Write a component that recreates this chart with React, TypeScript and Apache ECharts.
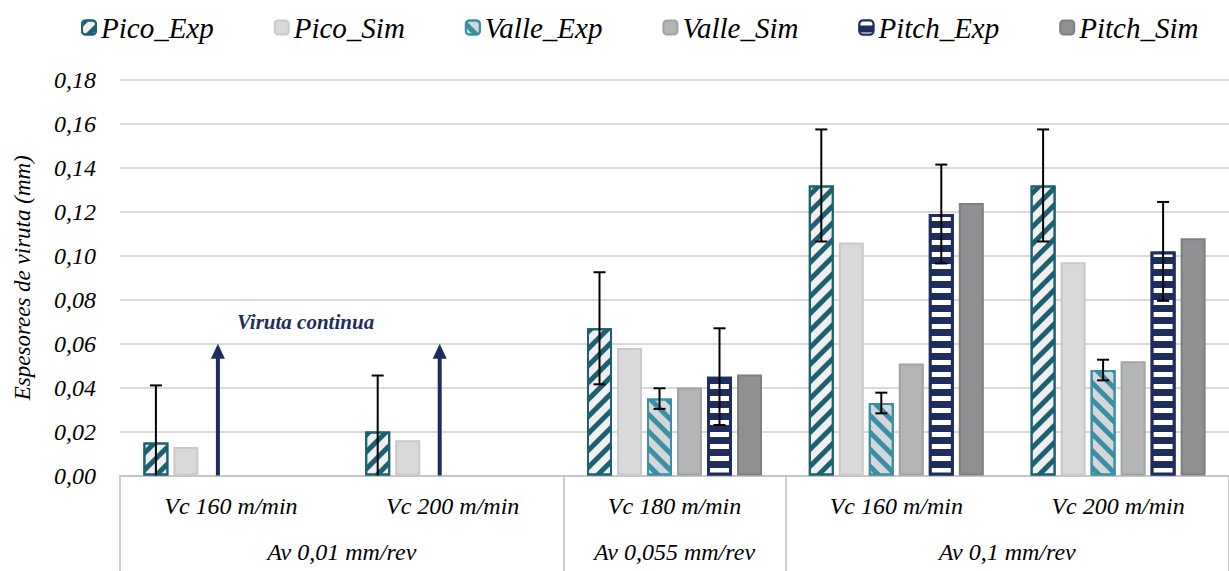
import React, { useEffect, useRef } from 'react';
import * as echarts from 'echarts';

// ---- data ----
const speedLabels = ['Vc 160 m/min', 'Vc 200 m/min', 'Vc 180 m/min', 'Vc 160 m/min', 'Vc 200 m/min'];
const feedGroups = ['Av 0,01 mm/rev', 'Av 0,055 mm/rev', 'Av 0,1 mm/rev'];
const feedGroupSizes = [2, 1, 2];

const seriesNames = ['Pico_Exp', 'Pico_Sim', 'Valle_Exp', 'Valle_Sim', 'Pitch_Exp', 'Pitch_Sim'];
const picoExp = [0.015, 0.020, 0.067, 0.132, 0.132];
const picoSim = [0.013, 0.016, 0.058, 0.106, 0.097];
const valleExp = [null, null, 0.035, 0.033, 0.048];
const valleSim = [null, null, 0.040, 0.051, 0.052];
const pitchExp = [null, null, 0.045, 0.119, 0.102];
const pitchSim = [null, null, 0.046, 0.124, 0.108];

const picoExpErr = [0.026, 0.0255, 0.0255, 0.0255, 0.0255];
const valleExpErr = [null, null, 0.0047, 0.0047, 0.0047];
const pitchExpErr = [null, null, 0.022, 0.0225, 0.0225];

const continuousChip = [0.06, 0.06, null, null, null];
const continuousText = 'Viruta continua';

const yMin = 0;
const yMax = 0.18;
const yStep = 0.02;

// ---- styles ----
const FONT = 'Liberation Serif';
const NAVY = '#1F2D5E';
const TEAL = '#1C6171';
const TEAL2 = '#3A8FA4';
const BAR_W = 25;
const BAR_STEP = 30; // bar width + gap (barGap 20%)
const ARROW_DX = -13;

function buildErrors() {
  const out: any[] = [];
  const sets: [any[], any[], number][] = [
    [picoExp, picoExpErr, 0],
    [valleExp, valleExpErr, 2],
    [pitchExp, pitchExpErr, 4],
  ];
  sets.forEach(([vals, errs, k]) => {
    vals.forEach((v, i) => {
      if (v != null && errs[i] != null) out.push([i, v, errs[i], k]);
    });
  });
  return out;
}

export default function App() {
  const ref = useRef<HTMLDivElement>(null);
  useEffect(() => {
    if (!ref.current) return;
    const chart = echarts.init(ref.current, undefined, { renderer: 'svg' });

    const bounds: number[] = [0];
    feedGroupSizes.forEach((s) => bounds.push(bounds[bounds.length - 1] + s));
    const centers = feedGroupSizes.map((s, i) => bounds[i] + s / 2);

    const barBase = (name: string, data: any[], itemStyle: any) => ({
      name,
      type: 'bar',
      data,
      barWidth: BAR_W,
      barGap: '20%',
      itemStyle,
      z: 2,
    });

    const txt = (size: number) => ({
      fontFamily: FONT,
      fontStyle: 'italic',
      fontSize: size,
      color: '#000',
    });

    const option: any = {
      animation: false,
      legend: {
        data: seriesNames,
        top: 8,
        left: 76,
        itemWidth: 14,
        itemHeight: 14,
        itemGap: 60,
        textStyle: txt(29),
      },
      grid: { left: 120, top: 80, width: 1118, height: 395.5 },
      xAxis: [
        {
          type: 'category',
          data: speedLabels.map((_, i) => String(i)),
          axisLine: { lineStyle: { color: '#BFBFBF', width: 1.5 } },
          axisTick: { show: false },
          axisLabel: {
            formatter: (v: string) => speedLabels[Number(v)],
            ...txt(24),
            margin: 18,
          },
        },
        {
          type: 'value',
          min: 0,
          max: speedLabels.length,
          position: 'bottom',
          axisLine: { show: false },
          splitLine: { show: false },
          axisTick: {
            show: true,
            customValues: bounds,
            length: 96,
            lineStyle: { color: '#BFBFBF', width: 1.5 },
          },
          axisLabel: {
            customValues: centers,
            formatter: (v: number) => feedGroups[centers.indexOf(v)] ?? '',
            ...txt(24),
            margin: 64,
          },
        },
      ],
      yAxis: {
        type: 'value',
        min: yMin,
        max: yMax,
        interval: yStep,
        name: 'Espesorees de viruta (mm)',
        nameLocation: 'middle',
        nameGap: 86,
        nameTextStyle: txt(23),
        axisLine: { show: false },
        axisTick: { show: false },
        axisLabel: {
          formatter: (v: number) => v.toFixed(2).replace('.', ','),
          ...txt(24),
          margin: 24,
        },
        splitLine: { lineStyle: { color: '#D9D9D9', width: 2 } },
      },
      graphic: [
        {
          type: 'text',
          left: 237,
          top: 311,
          style: {
            text: continuousText,
            fontFamily: FONT,
            fontStyle: 'italic',
            fontWeight: 'bold',
            fontSize: 21,
            fill: NAVY,
          },
        },
      ],
      series: [
        barBase('Pico_Exp', picoExp, {
          color: '#EFEFEF',
          borderColor: TEAL,
          borderWidth: 2,
          decal: { symbol: 'rect', symbolSize: 1, color: TEAL, dashArrayX: [1, 0], dashArrayY: [5, 7], rotation: -Math.PI / 4 },
        }),
        barBase('Pico_Sim', picoSim, { color: '#D9D9D9', borderColor: '#C9C9C9', borderWidth: 2 }),
        barBase('Valle_Exp', valleExp, {
          color: '#D4D7D9',
          borderColor: TEAL2,
          borderWidth: 2,
          decal: { symbol: 'rect', symbolSize: 1, color: TEAL2, dashArrayX: [1, 0], dashArrayY: [5, 7], rotation: Math.PI / 4 },
        }),
        barBase('Valle_Sim', valleSim, { color: '#B3B5B7', borderColor: '#A0A2A4', borderWidth: 2 }),
        barBase('Pitch_Exp', pitchExp, {
          color: NAVY,
          borderColor: NAVY,
          borderWidth: 3,
          decal: { symbol: 'rect', symbolSize: 1, color: '#FFFFFF', dashArrayX: [1, 0], dashArrayY: [5, 7], rotation: 0 },
        }),
        barBase('Pitch_Sim', pitchSim, { color: '#8E9092', borderColor: '#7D7F81', borderWidth: 2 }),
        {
          name: 'errors',
          type: 'custom',
          xAxisIndex: 0,
          yAxisIndex: 0,
          z: 5,
          data: buildErrors(),
          encode: { x: 0, y: 1 },
          renderItem: (params: any, api: any) => {
            const ci = api.value(0);
            const v = api.value(1);
            const e = api.value(2);
            const k = api.value(3);
            const top = api.coord([ci, v + e]);
            const low = v - e;
            const bot = api.coord([ci, Math.max(0, low)]);
            const x = top[0] + (k - 2.5) * BAR_STEP;
            const st = { stroke: '#000', lineWidth: 2 };
            const children: any[] = [
              { type: 'line', shape: { x1: x, y1: top[1], x2: x, y2: bot[1] }, style: st },
              { type: 'line', shape: { x1: x - 6, y1: top[1], x2: x + 6, y2: top[1] }, style: st },
            ];
            if (low > 0) {
              children.push({ type: 'line', shape: { x1: x - 6, y1: bot[1], x2: x + 6, y2: bot[1] }, style: st });
            }
            return { type: 'group', children };
          },
        },
        {
          name: 'arrows',
          type: 'custom',
          xAxisIndex: 0,
          yAxisIndex: 0,
          z: 5,
          data: continuousChip.map((v, i) => (v == null ? null : [i, v])).filter((d) => d != null),
          encode: { x: 0, y: 1 },
          renderItem: (params: any, api: any) => {
            const ci = api.value(0);
            const v = api.value(1);
            const base = api.coord([ci, 0]);
            const tip = api.coord([ci, v]);
            const x = base[0] + ARROW_DX;
            return {
              type: 'group',
              children: [
                { type: 'line', shape: { x1: x, y1: base[1], x2: x, y2: tip[1] + 12 }, style: { stroke: NAVY, lineWidth: 4 } },
                {
                  type: 'polygon',
                  shape: { points: [[x, tip[1]], [x - 7, tip[1] + 15], [x + 7, tip[1] + 15]] },
                  style: { fill: NAVY },
                },
              ],
            };
          },
        },
      ],
    };

    chart.setOption(option);
    return () => chart.dispose();
  }, []);

  return (
    <>
      <style>{`#chipchart svg text { font-family: 'Liberation Serif', serif !important; }`}</style>
      <div
        id="chipchart"
        ref={ref}
        style={{ position: 'absolute', left: 0, top: 0, width: 1229, height: 571, background: '#fff' }}
      />
    </>
  );
}
